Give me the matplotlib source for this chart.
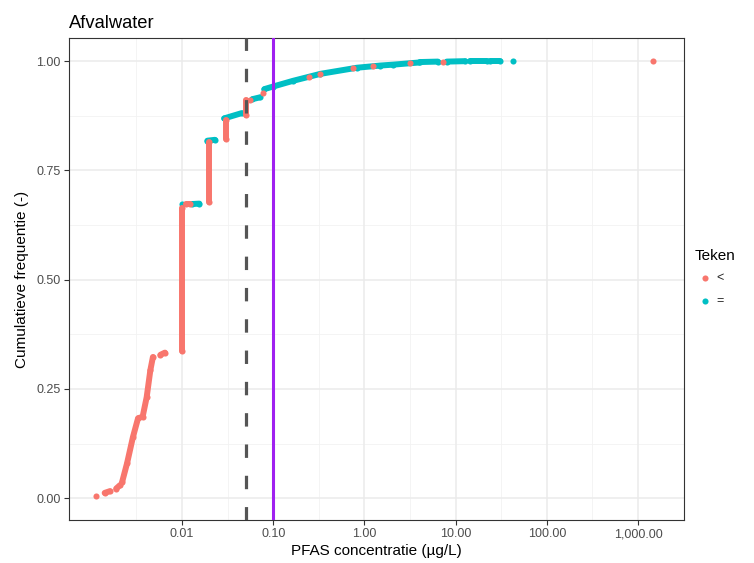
import numpy as np
import matplotlib.pyplot as plt
from matplotlib.lines import Line2D

plt.rcParams['font.family'] = ['Liberation Sans', 'DejaVu Sans']

# === data ===
# "<" runs (Teken = <), each run is one group of dense points
lt_x = [[0.00114], [0.00142, 0.00162], [0.0019, 0.0021],
        [0.0022, 0.0025, 0.0029, 0.0033, 0.0037, 0.0041, 0.0045, 0.0048],
        [0.0058, 0.0065], [0.01, 0.01], [0.0112, 0.0121], [0.02, 0.02],
        [0.03, 0.03], [0.05, 0.05], [0.055], [0.077], [0.25], [0.33],
        [0.75], [1.23], [3.2], [7.2], [1460]]
lt_y = [[0.004], [0.012, 0.016], [0.022, 0.030],
        [0.036, 0.08, 0.14, 0.183, 0.186, 0.231, 0.293, 0.323],
        [0.328, 0.333], [0.336, 0.665], [0.672, 0.672], [0.678, 0.815],
        [0.822, 0.866], [0.876, 0.912], [0.912], [0.926], [0.963], [0.970],
        [0.984], [0.989], [0.995], [0.998], [1.0]]

# "=" runs (Teken = =)
eq_x = [[0.01], [0.0128, 0.0155], [0.019, 0.023], [0.029, 0.045],
        [0.059, 0.071], [0.08, 0.1, 0.165, 0.33, 0.83, 1.5, 2.06, 4.0],
        [4.1, 6.4], [8.0, 12.7], [14.4, 22.0], [23.8, 30.7], [42.6]]
eq_y = [[0.672], [0.673, 0.674], [0.818, 0.820], [0.869, 0.881],
        [0.913, 0.917], [0.936, 0.942, 0.955, 0.971, 0.985, 0.990, 0.992, 0.997],
        [0.998, 0.999], [0.999, 1.0], [1.0, 1.0], [1.0, 1.0], [1.0]]

norm_lines = [0.05, 0.1]   # dashed grijs, paars
x_breaks = [0.01, 0.1, 1, 10, 100, 1000]
x_labels = ['0.01', '0.10', '1.00', '10.00', '100.00', '1,000.00']
y_breaks = [0.0, 0.25, 0.5, 0.75, 1.0]
y_labels = ['0.00', '0.25', '0.50', '0.75', '1.00']
legend_labels = ['<', '=']

red = '#F8766D'
teal = '#00BFC4'

fig = plt.figure(figsize=(7.54, 5.63), dpi=100)
ax = fig.add_axes([0.0915, 0.0764, 0.8156, 0.8561])

ax.set_xscale('log')
ax.set_xlim(10 ** -3.239, 10 ** 3.504)
ax.set_ylim(-0.05, 1.053)

# grid (theme_bw)
for v in [10 ** -2.5, 10 ** -1.5, 10 ** -0.5, 10 ** 0.5, 10 ** 1.5, 10 ** 2.5, 10 ** 3.5]:
    ax.axvline(v, color='#F2F2F2', lw=0.6, zorder=0)
for v in [0.125, 0.375, 0.625, 0.875]:
    ax.axhline(v, color='#F2F2F2', lw=0.6, zorder=0)
for v in x_breaks:
    ax.axvline(v, color='#EBEBEB', lw=1.1, zorder=0)
for v in y_breaks:
    ax.axhline(v, color='#EBEBEB', lw=1.1, zorder=0)

# punten
for xs, ys in zip(eq_x, eq_y):
    ax.plot(xs, ys, color=teal, lw=4.3, solid_capstyle='round',
            marker='o', ms=4.4, mew=0, zorder=2)
for xs, ys in zip(lt_x, lt_y):
    ax.plot(xs, ys, color=red, lw=4.3, solid_capstyle='round',
            marker='o', ms=4.4, mew=0, zorder=3)

# normlijnen
dl = ax.axvline(norm_lines[0], color='#555555', lw=2.3, zorder=4)
dl.set_dashes((4.2, 5.6))
ax.axvline(norm_lines[1], color='#A020F0', lw=2.2, zorder=4)

ax.set_xticks(x_breaks)
ax.set_xticklabels(x_labels)
ax.xaxis.set_minor_locator(plt.NullLocator())
ax.set_yticks(y_breaks)
ax.set_yticklabels(y_labels)
ax.tick_params(axis='both', length=3.5, width=0.8, color='#333333',
               labelcolor='#4D4D4D', labelsize=9, pad=2.5)

for s in ax.spines.values():
    s.set_color('#333333')
    s.set_linewidth(0.8)

ax.set_xlabel('PFAS concentratie (µg/L)', fontsize=11, labelpad=3)
ax.set_ylabel('Cumulatieve frequentie (-)', fontsize=11, labelpad=5)
ax.set_title('Afvalwater', fontsize=13.2, loc='left', pad=7)

# legenda (rechts buiten het paneel)
fig.text(695 / 754, 1 - 256 / 563, 'Teken', fontsize=11, va='center', ha='left')
for lab, col, py in zip(legend_labels, [red, teal], [278, 301]):
    fig.add_artist(Line2D([705 / 754], [1 - py / 563], transform=fig.transFigure,
                          ls='', marker='o', ms=4.4, mew=0, color=col))
    fig.text(716 / 754, 1 - py / 563, lab, fontsize=9, va='center', ha='left',
             color='#222222')

fig.savefig('out.png', dpi=100)
